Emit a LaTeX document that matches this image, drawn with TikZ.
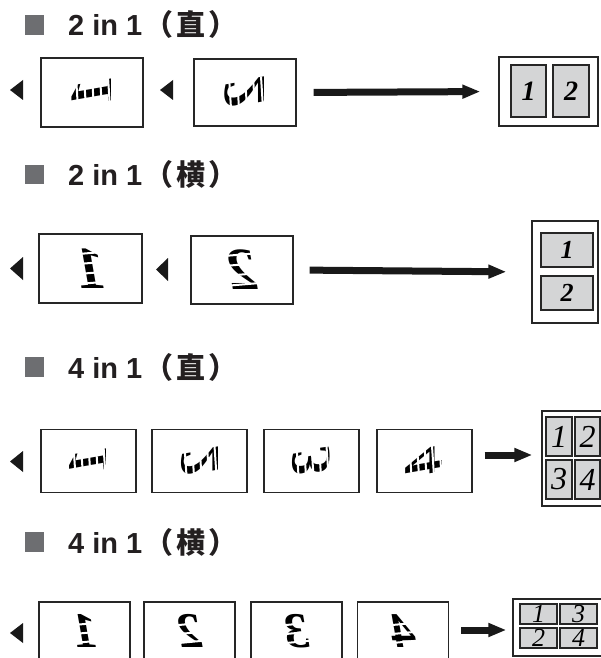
\documentclass[tikz,border=0pt]{standalone}
\usepackage{fontspec}
\setmainfont{Liberation Serif}
\setsansfont{Liberation Sans}
\newfontfamily\cjk{Noto Sans CJK SC}
\usepackage{graphicx}
\usetikzlibrary{
  arrows.meta,  % Triangle 箭头
  positioning   % 节点相对定位
}

\definecolor{inkgray}{HTML}{231F20}
\definecolor{markgray}{HTML}{6D6E71}
\definecolor{sheetgray}{HTML}{D4D5D6}

% 原稿面朝下放置：竖向原稿镜像后旋转，横向原稿仅镜像
\newcommand{\backP}[1]{\rotatebox{90}{\scalebox{-1}[1]{#1}}}
\newcommand{\backL}[1]{\scalebox{-1}[1]{#1}}

\tikzset{
  heading/.style={font=\sffamily\bfseries\fontsize{29}{32}\selectfont, text=inkgray, inner sep=0pt, anchor=base west},
  headmark/.style={fill=markgray},
  original/.style={draw=black!85, line width=1.3pt, fill=white, inner sep=0pt},
  outbox/.style={draw=black!85, line width=1.3pt, fill=white, inner sep=0pt},
  subpage/.style={draw=black!85, line width=1.1pt, fill=sheetgray, inner sep=0pt},
  stripe/.style={white, line width=2pt},
  bigarrow/.style={line width=7pt, black!90, -{Triangle[length=18pt, width=13pt]}},
  marker/.style={fill=black!90}
}

\begin{document}
\begin{tikzpicture}[>=Stealth, x=1pt, y=-1pt] % 以像素为单位，y 轴向下
  \useasboundingbox (0,0) rectangle (601,658);

  % =============== 2 in 1（直） ===============
  \fill[headmark] (25,15) rectangle (44,35);
  \node[heading] (t1) at (68,36) {2 in 1\hspace{2pt}{\cjk （\hspace{3pt}直\hspace{3pt}）}};

  \fill[marker] (23,80) -- (23,100) -- (10,90) -- cycle;
  \node[original, minimum width=102pt, minimum height=69pt, font=\bfseries\itshape\fontsize{60}{60}\selectfont] (r1a) at (92,92.5) {\backP{1}};
  \fill[marker] (173,80) -- (173,100) -- (160,90) -- cycle;
  \node[original, minimum width=102pt, minimum height=67pt, font=\bfseries\itshape\fontsize{60}{60}\selectfont] (r1b) at (245,92.5) {\backP{2}};
  \foreach \d in {-16,-8,0,8,16} {
    \draw[stripe] ([xshift=\d pt, yshift=16pt]r1a.center) -- ++(2,32);
    \draw[stripe] ([xshift=\d pt, yshift=16pt]r1b.center) -- ++(2,32);
  }

  \node[outbox, minimum width=99pt, minimum height=69pt] (r1o) at (548.5,91.5) {};
  \node[subpage, minimum width=35pt, minimum height=52pt, font=\bfseries\itshape\fontsize{28}{28}\selectfont] (r1s1) at (528.5,91) {1};
  \node[subpage, minimum width=36pt, minimum height=52pt, font=\bfseries\itshape\fontsize{28}{28}\selectfont] (r1s2) at (571,91) {2};
  \draw[bigarrow, shorten <=17pt, shorten >=18pt] (r1b.east) -- (r1o.west);

  % =============== 2 in 1（横） ===============
  \fill[headmark] (25,165) rectangle (44,184);
  \node[heading] (t2) at (68,185) {2 in 1\hspace{2pt}{\cjk （\hspace{3pt}横\hspace{3pt}）}};

  \fill[marker] (23,257) -- (23,280) -- (10,268.5) -- cycle;
  \node[original, minimum width=103pt, minimum height=69pt, font=\bfseries\itshape\fontsize{60}{60}\selectfont] (r2a) at (90.5,268.5) {\backL{1}};
  \fill[marker] (168,258) -- (168,281) -- (156,269.5) -- cycle;
  \node[original, minimum width=102pt, minimum height=68pt, font=\bfseries\itshape\fontsize{60}{60}\selectfont] (r2b) at (242,270) {\backL{2}};
  \foreach \d in {-16,-6,4,14} {
    \draw[stripe] ([xshift=-18pt, yshift=\d pt]r2a.center) -- ++(36,-3);
    \draw[stripe] ([xshift=-18pt, yshift=\d pt]r2b.center) -- ++(36,-3);
  }

  \node[outbox, minimum width=66pt, minimum height=102pt] (r2o) at (565,272) {};
  \node[subpage, minimum width=52pt, minimum height=34pt, font=\bfseries\itshape\fontsize{26}{26}\selectfont] (r2s1) at (567,250) {1};
  \node[subpage, minimum width=52pt, minimum height=34pt, font=\bfseries\itshape\fontsize{26}{26}\selectfont] (r2s2) at (567,293) {2};
  \draw[bigarrow, shorten <=16pt, shorten >=25pt] (r2b.east) -- (r2o.west);

  % =============== 4 in 1（直） ===============
  \fill[headmark] (25,357) rectangle (44,377);
  \node[heading] (t3) at (68,378) {4 in 1\hspace{2pt}{\cjk （\hspace{3pt}直\hspace{3pt}）}};

  \fill[marker] (23,451) -- (23,472) -- (10,461.5) -- cycle;
  \foreach \n/\cx in {1/88.5, 2/199.5, 3/311.5, 4/424.5} {
    \node[original, minimum width=95pt, minimum height=63pt, font=\bfseries\itshape\fontsize{56}{56}\selectfont] (r3p\n) at (\cx,461) {\backP{\n}};
    \foreach \d in {-15,-7.5,0,7.5,15}
      \draw[stripe] ([xshift=\d pt, yshift=15pt]r3p\n.center) -- ++(2,30);
  }

  \node[outbox, minimum width=60pt, minimum height=95pt] (r3o) at (572,458.5) {};
  \node[subpage, minimum width=26pt, minimum height=39pt, font=\itshape\fontsize{32}{32}\selectfont] (r3s1) at (559,436.5) {1};
  \node[subpage, minimum width=25pt, minimum height=39pt, font=\itshape\fontsize{32}{32}\selectfont] (r3s2) at (587.5,436.5) {2};
  \node[subpage, minimum width=26pt, minimum height=39pt, font=\itshape\fontsize{32}{32}\selectfont] (r3s3) at (559,479.5) {3};
  \node[subpage, minimum width=25pt, minimum height=39pt, font=\itshape\fontsize{32}{32}\selectfont] (r3s4) at (587.5,479.5) {4};
  \draw[bigarrow, shorten <=12pt, shorten >=9pt] ([yshift=6pt]r3p4.east) -- ([yshift=3.5pt]r3o.west);

  % =============== 4 in 1（横） ===============
  \fill[headmark] (25,532) rectangle (44,552);
  \node[heading] (t4) at (68,553) {4 in 1\hspace{2pt}{\cjk （\hspace{3pt}横\hspace{3pt}）}};

  \fill[marker] (23,623) -- (23,643) -- (10,633) -- cycle;
  % 原稿下缘被裁去，字形略向上提
  \foreach \n/\cx in {1/84.5, 2/189.5, 3/296.5, 4/403} {
    \node[original, minimum width=91pt, minimum height=63pt, font=\bfseries\itshape\fontsize{50}{50}\selectfont] (r4p\n) at (\cx,633.5) {\raisebox{5pt}{\backL{\n}}};
    \foreach \d in {-19,-10,-1,8}
      \draw[stripe] ([xshift=-16pt, yshift=\d pt]r4p\n.center) -- ++(32,-3);
  }

  \node[outbox, minimum width=92pt, minimum height=57pt] (r4o) at (559,627.5) {};
  \node[subpage, minimum width=37pt, minimum height=20pt, font=\itshape\fontsize{26}{26}\selectfont] (r4s1) at (538.5,614) {1};
  \node[subpage, minimum width=37pt, minimum height=20pt, font=\itshape\fontsize{26}{26}\selectfont] (r4s3) at (578.5,614) {3};
  \node[subpage, minimum width=37pt, minimum height=20pt, font=\itshape\fontsize{26}{26}\selectfont] (r4s2) at (538.5,638) {2};
  \node[subpage, minimum width=37pt, minimum height=20pt, font=\itshape\fontsize{26}{26}\selectfont] (r4s4) at (578.5,638) {4};
  \draw[bigarrow, shorten <=12pt, shorten >=6pt] ([yshift=3.5pt]r4p4.east) -- ([yshift=-2.5pt]r4o.west);

\end{tikzpicture}
\end{document}
